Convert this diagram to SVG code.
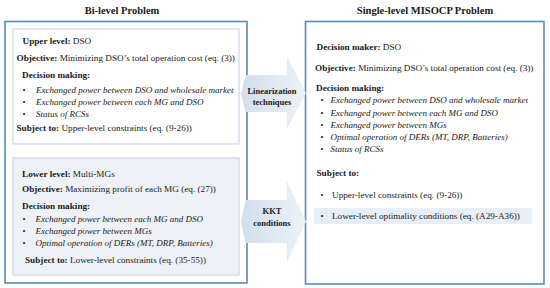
<svg xmlns="http://www.w3.org/2000/svg" width="550" height="288" viewBox="0 0 550 288">
<defs>
<linearGradient id="ag" x1="0" y1="0" x2="1" y2="0">
<stop offset="0" stop-color="#d2deec"/>
<stop offset="1" stop-color="#edf2f8"/>
</linearGradient>
<style>
text{font-family:"Liberation Serif","Times New Roman",serif;font-size:9.2px;fill:#1a1a1a}
.t{font-size:10.5px;font-weight:bold}
.b{font-weight:bold}
.i{font-style:italic;font-size:9px}
.bl{font-size:8.5px}
.a{font-size:8.5px;font-weight:bold;text-anchor:middle}
.outer{fill:#ffffff;stroke:#5a8bb8;stroke-width:1.6}
.inner{fill:#ffffff;stroke:#c9d7e6;stroke-width:1.2}
.inner2{fill:#eef2f7;stroke:#c9d7e6;stroke-width:1.2}
.arrow{fill:url(#ag);stroke:none}
</style>
</defs>
<rect width="550" height="288" fill="#ffffff"/>

<g id="bilevel">
<text class="t" x="122" y="14" text-anchor="middle">Bi-level Problem</text>
<rect class="outer" x="5" y="21.5" width="242" height="261.5"/>
</g>

<g id="upper-level">
<rect class="inner" x="13" y="29" width="226" height="115"/>
<text x="22.5" y="44"><tspan class="b">Upper level:</tspan> DSO</text>
<text x="16.5" y="60.5"><tspan class="b">Objective:</tspan> Minimizing DSO’s total operation cost (eq. (3))</text>
<text class="b" x="22" y="77.5">Decision making:</text>
<text class="bl" x="22.5" y="93">•</text><text class="i" x="36" y="93">Exchanged power between DSO and wholesale market</text>
<text class="bl" x="22.5" y="105">•</text><text class="i" x="36" y="105">Exchanged power between each MG and DSO</text>
<text class="bl" x="22.5" y="117">•</text><text class="i" x="36" y="117">Status of RCSs</text>
<text x="16.5" y="131"><tspan class="b">Subject to:</tspan> Upper-level constraints (eq. (9-26))</text>
</g>

<g id="lower-level">
<rect class="inner2" x="13" y="158" width="226" height="117"/>
<text x="22" y="176.5"><tspan class="b">Lower level:</tspan> Multi-MGs</text>
<text x="22" y="192"><tspan class="b">Objective:</tspan> Maximizing profit of each MG (eq. (27))</text>
<text class="b" x="22" y="209">Decision making:</text>
<text class="bl" x="22.5" y="222">•</text><text class="i" x="35.5" y="222">Exchanged power between each MG and DSO</text>
<text class="bl" x="22.5" y="234">•</text><text class="i" x="35.5" y="234">Exchanged power between MGs</text>
<text class="bl" x="22.5" y="246">•</text><text class="i" x="35.5" y="246">Optimal operation of DERs (MT, DRP, Batteries)</text>
<text x="25" y="263"><tspan class="b">Subject to:</tspan> Lower-level constraints (eq. (35-55))</text>
</g>

<g id="single-level">
<text class="t" x="425" y="14" text-anchor="middle">Single-level MISOCP Problem</text>
<rect class="outer" x="305.5" y="21.5" width="238.5" height="262.5"/>
<text x="316.5" y="49.5"><tspan class="b">Decision maker:</tspan> DSO</text>
<text x="315" y="71"><tspan class="b">Objective:</tspan> Minimizing DSO’s total operation cost (eq. (3))</text>
<text class="b" x="316" y="90.5">Decision making:</text>
<text class="bl" x="320.5" y="103">•</text><text class="i" x="330.5" y="103">Exchanged power between DSO and wholesale market</text>
<text class="bl" x="320.5" y="115.5">•</text><text class="i" x="330.5" y="115.5">Exchanged power between each MG and DSO</text>
<text class="bl" x="320.5" y="128">•</text><text class="i" x="330.5" y="128">Exchanged power between MGs</text>
<text class="bl" x="320.5" y="140">•</text><text class="i" x="330.5" y="140">Optimal operation of DERs (MT, DRP, Batteries)</text>
<text class="bl" x="320.5" y="152">•</text><text class="i" x="330.5" y="152">Status of RCSs</text>
<text class="b" x="316.5" y="176">Subject to:</text>
<text class="bl" x="320.5" y="198">•</text><text x="332" y="198">Upper-level constraints (eq. (9-26))</text>
<rect x="314" y="208" width="218" height="16" fill="#e8eef5"/>
<text class="bl" x="320.5" y="219">•</text><text x="332" y="219">Lower-level optimality conditions (eq. (A29-A36))</text>
</g>

<g id="connectors">
<g id="linearization">
<path class="arrow" d="M241,93.5 L245.5,75 L287,75 L287,57 L306,93 L287,129 L287,112 L245.5,112 Z"/>
<text class="a" x="272" y="93.5">Linearization</text>
<text class="a" x="272" y="104.5">techniques</text>
</g>
<g id="kkt">
<path class="arrow" d="M241,221.5 L245.5,200 L287,200 L287,181 L306,221.5 L287,262 L287,243 L245.5,243 Z"/>
<text class="a" x="272" y="214">KKT</text>
<text class="a" x="272" y="225.5">conditions</text>
</g>
</g>
</svg>
